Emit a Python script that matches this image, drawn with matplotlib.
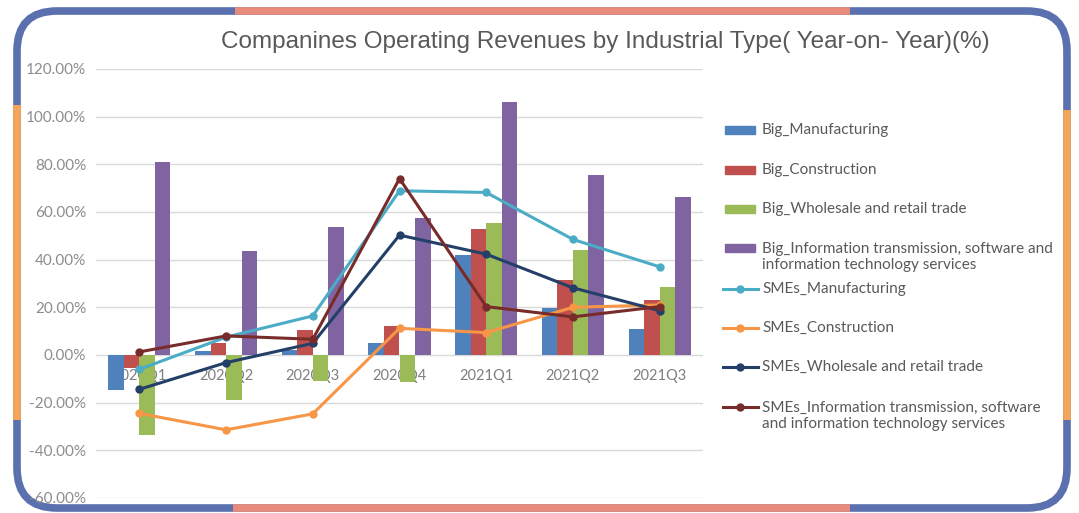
import numpy as np
import matplotlib
matplotlib.use('Agg')
import matplotlib.pyplot as plt
from matplotlib.patches import FancyBboxPatch, Rectangle

quarters = ['2020Q1', '2020Q2', '2020Q3', '2020Q4', '2021Q1', '2021Q2', '2021Q3']

# big companies (bars)
big_manufacturing = [-14.7, 1.5, 2.0, 5.2, 42.0, 19.6, 10.8]
big_construction = [-5.5, 5.0, 10.5, 12.2, 52.8, 31.4, 23.0]
big_wholesale = [-33.5, -19.0, -11.0, -11.2, 55.5, 44.0, 28.6]
big_info = [81.0, 43.6, 53.8, 57.3, 106.2, 75.5, 66.4]

# SMEs (lines)
sme_manufacturing = [-6.0, 7.5, 16.4, 68.9, 68.2, 48.5, 37.0]
sme_construction = [-24.5, -31.4, -24.7, 11.2, 9.4, 20.0, 21.0]
sme_wholesale = [-14.4, -3.2, 4.9, 50.3, 42.3, 28.2, 18.6]
sme_info = [1.3, 8.0, 6.6, 74.0, 20.3, 16.0, 20.3]

bar_series = [
    ('Big_Manufacturing', big_manufacturing, '#4f81bd'),
    ('Big_Construction', big_construction, '#c0504d'),
    ('Big_Wholesale and retail trade', big_wholesale, '#9bbb59'),
    ('Big_Information transmission, software and\ninformation technology services', big_info, '#8064a2'),
]
line_series = [
    ('SMEs_Manufacturing', sme_manufacturing, '#4bacc6'),
    ('SMEs_Construction', sme_construction, '#f79646'),
    ('SMEs_Wholesale and retail trade', sme_wholesale, '#243f68'),
    ('SMEs_Information transmission, software\nand information technology services', sme_info, '#772c2a'),
]

W, H = 1079, 513
fig = plt.figure(figsize=(W / 100, H / 100), dpi=100, facecolor='white')

# background layer in pixel units: frame + title + legend
bg = fig.add_axes([0, 0, 1, 1], zorder=0)
bg.set_xlim(0, W)
bg.set_ylim(H, 0)
bg.axis('off')

blue, salmon, orange = '#5b70ae', '#e98b7c', '#f5a55a'
frame = FancyBboxPatch((17, 11), 1067 - 17, 508 - 11,
                       boxstyle='round,pad=0,rounding_size=40',
                       fc='white', ec=blue, lw=5.5)
bg.add_patch(frame)
bg.plot([235, 850], [11, 11], color=salmon, lw=5.5, solid_capstyle='butt')
bg.plot([233, 850], [508, 508], color=salmon, lw=5.5, solid_capstyle='butt')
bg.plot([17, 17], [105, 420], color=orange, lw=5.5, solid_capstyle='butt')
bg.plot([1067, 1067], [110, 420], color=orange, lw=5.5, solid_capstyle='butt')

bg.text(605, 42, 'Companines Operating Revenues by Industrial Type( Year-on- Year)(%)',
        ha='center', va='center', fontsize=17.5, color='#595959',
        family='Liberation Sans')

# legend
legend_rows = [130, 170, 209, 248, 289, 328, 367, 407]
text_rows = [130, 170, 209, 257, 289, 328, 367, 416]
entries = bar_series + line_series
for i, (name, vals, col) in enumerate(entries):
    y = legend_rows[i]
    if i < 4:
        bg.add_patch(Rectangle((725, y - 4), 30, 8, color=col))
    else:
        bg.plot([723, 758], [y, y], color=col, lw=2.2)
        bg.plot([740], [y], 'o', color=col, ms=5)
    bg.text(762, text_rows[i], name, va='center', ha='left', fontsize=11,
            color='#595959', family='Lato', linespacing=1.2)

# main chart
ax = fig.add_axes([96 / W, 1 - 498 / H, (703 - 96) / W, (498 - 69) / H], zorder=1)
ax.patch.set_alpha(0)
x = np.arange(len(quarters))
bw = 0.179
for k, (name, vals, col) in enumerate(bar_series):
    ax.bar(x + (k - 1.5) * bw, vals, width=bw, color=col, zorder=2)
for name, vals, col in line_series:
    ax.plot(x, vals, color=col, lw=2.2, marker='o', ms=5, zorder=3)

ax.set_xlim(-0.5, len(quarters) - 0.5)
ax.set_ylim(-60, 120)
ax.set_yticks(np.arange(-60, 121, 20))
ax.yaxis.set_major_formatter(matplotlib.ticker.FuncFormatter(lambda v, p: f'{v:.2f}%'))
ax.grid(axis='y', color='#d9d9d9', lw=1)
ax.set_axisbelow(True)
for s in ax.spines.values():
    s.set_visible(False)
ax.spines['bottom'].set_position(('data', 0))
ax.set_xticks(x)
ax.set_xticklabels(quarters)
ax.tick_params(axis='x', length=0, pad=10, labelsize=10.5, labelcolor='#7f7f7f')
ax.tick_params(axis='y', length=0, pad=7, labelsize=11, labelcolor='#8c8c8c')
for lab in ax.get_xticklabels() + ax.get_yticklabels():
    lab.set_family('Lato')
    lab.set_zorder(4)

fig.savefig('out.png', dpi=100, facecolor='white')
